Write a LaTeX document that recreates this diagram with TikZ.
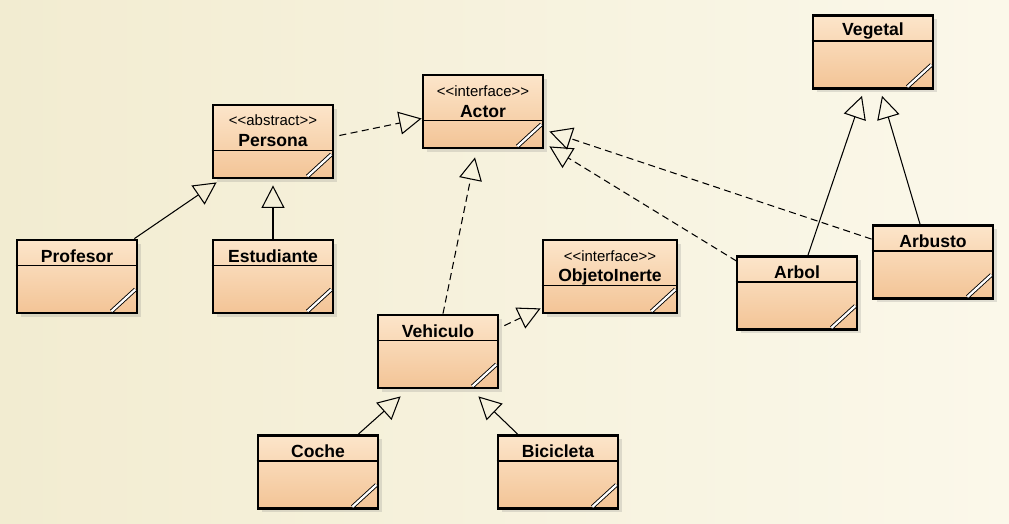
\documentclass[tikz,border=0pt]{standalone}
\usepackage{fontspec}
\setmainfont{Liberation Sans}
\usetikzlibrary{arrows.meta,calc,shadows,positioning}
\definecolor{paper}{RGB}{242,236,209}
\definecolor{paperlight}{RGB}{251,248,234}
\definecolor{classtop}{RGB}{252,229,202}
\definecolor{classbot}{RGB}{243,196,150}
\tikzset{>={Triangle[open,length=0.45cm,width=0.46cm]},
	classbox/.style={rectangle,draw=black,line width=1.6pt,inner sep=0pt,minimum width=2.4cm,minimum height=1.46cm,top color=classtop,bottom color=classbot,drop shadow={opacity=0.22,shadow xshift=2pt,shadow yshift=-2pt}},
	widebox/.style={classbox,minimum width=2.68cm},
	cname/.style={inner sep=0pt,font=\bfseries\fontsize{10}{12}\selectfont},
	stereo/.style={inner sep=0pt,font=\fontsize{8.5}{10}\selectfont},
	divider/.style={line width=0.8pt},
	corner/.style={line width=0.5pt,double=white,double distance=1.3pt},
	realize/.style={->,line width=0.6pt,dash pattern=on 4pt off 2.5pt},
	extends/.style={->,line width=0.6pt}}
\begin{document}
\begin{tikzpicture}[x=0.02cm,y=-0.02cm]
	\fill[left color=paper,right color=paperlight] (0,0) rectangle (1009,524);
	\useasboundingbox (0,0) rectangle (1009,524);
	% classes
	\node (Persona) at (273,141.5) [classbox] {};
	\node (Actor) at (483,111.5) [classbox] {};
	\node (Vegetal) at (873,52) [classbox] {};
	\node (Profesor) at (77,276.5) [classbox] {};
	\node (Estudiante) at (273,276.5) [classbox] {};
	\node (ObjetoInerte) at (610,276.5) [widebox] {};
	\node (Vehiculo) at (438,351.5) [classbox] {};
	\node (Arbol) at (797,293) [classbox] {};
	\node (Arbusto) at (933,262) [classbox] {};
	\node (Coche) at (318,472) [classbox] {};
	\node (Bicicleta) at (558,472) [classbox] {};
	% names
	\node at (273,120) [stereo] {<\kern0pt<abstract>\kern0pt>};
	\node at (273,141) [cname] {Persona};
	\node at (483,91) [stereo] {<\kern0pt<interface>\kern0pt>};
	\node at (483,112) [cname] {Actor};
	\node at (610,256) [stereo] {<\kern0pt<interface>\kern0pt>};
	\node at (610,277) [cname] {ObjetoInerte};
	\node at (873,31) [cname] {Vegetal};
	\node at (77,256) [cname] {Profesor};
	\node at (273,256) [cname] {Estudiante};
	\node at (438,331) [cname] {Vehiculo};
	\node at (797,272) [cname] {Arbol};
	\node at (933,241) [cname] {Arbusto};
	\node at (318,451) [cname] {Coche};
	\node at (558,451) [cname] {Bicicleta};
	% compartments
	\draw[divider] ($(Persona.north west)+(0,47)$) -- ($(Persona.north east)+(0,47)$);
	\draw[divider] ($(Actor.north west)+(0,47)$) -- ($(Actor.north east)+(0,47)$);
	\draw[divider] ($(ObjetoInerte.north west)+(0,47)$) -- ($(ObjetoInerte.north east)+(0,47)$);
	\draw[divider] ($(Vegetal.north west)+(0,27)$) -- ($(Vegetal.north east)+(0,27)$);
	\draw[divider] ($(Profesor.north west)+(0,27)$) -- ($(Profesor.north east)+(0,27)$);
	\draw[divider] ($(Estudiante.north west)+(0,27)$) -- ($(Estudiante.north east)+(0,27)$);
	\draw[divider] ($(Vehiculo.north west)+(0,27)$) -- ($(Vehiculo.north east)+(0,27)$);
	\draw[divider] ($(Arbol.north west)+(0,27)$) -- ($(Arbol.north east)+(0,27)$);
	\draw[divider] ($(Arbusto.north west)+(0,27)$) -- ($(Arbusto.north east)+(0,27)$);
	\draw[divider] ($(Coche.north west)+(0,27)$) -- ($(Coche.north east)+(0,27)$);
	\draw[divider] ($(Bicicleta.north west)+(0,27)$) -- ($(Bicicleta.north east)+(0,27)$);
	% resize marks
	\draw[corner] ($(Persona.south east)+(-27,-3)$) -- ($(Persona.south east)+(-3,-25)$);
	\draw[corner] ($(Actor.south east)+(-27,-3)$) -- ($(Actor.south east)+(-3,-25)$);
	\draw[corner] ($(ObjetoInerte.south east)+(-27,-3)$) -- ($(ObjetoInerte.south east)+(-3,-25)$);
	\draw[corner] ($(Vegetal.south east)+(-27,-3)$) -- ($(Vegetal.south east)+(-3,-25)$);
	\draw[corner] ($(Profesor.south east)+(-27,-3)$) -- ($(Profesor.south east)+(-3,-25)$);
	\draw[corner] ($(Estudiante.south east)+(-27,-3)$) -- ($(Estudiante.south east)+(-3,-25)$);
	\draw[corner] ($(Vehiculo.south east)+(-27,-3)$) -- ($(Vehiculo.south east)+(-3,-25)$);
	\draw[corner] ($(Arbol.south east)+(-27,-3)$) -- ($(Arbol.south east)+(-3,-25)$);
	\draw[corner] ($(Arbusto.south east)+(-27,-3)$) -- ($(Arbusto.south east)+(-3,-25)$);
	\draw[corner] ($(Coche.south east)+(-27,-3)$) -- ($(Coche.south east)+(-3,-25)$);
	\draw[corner] ($(Bicicleta.south east)+(-27,-3)$) -- ($(Bicicleta.south east)+(-3,-25)$);
	% relations
	\draw[realize] ($(Persona.east)+(5,-6)$) -- ($(Actor.west)+(0,7)$);
	\draw[extends] ($(Profesor.north east)+(-4,0)$) -- ($(Persona.south west)+(5,3)$);
	\draw[extends] (Estudiante.north) -- ($(Persona.south)+(0,6)$);
	\draw[realize] ($(Vehiculo.north)+(5,0)$) -- ($(Actor.south)+(-8,8)$);
	\draw[realize] ($(Vehiculo.north east)+(5,12)$) -- ($(ObjetoInerte.south west)+(-1,-6)$);
	\draw[extends] ($(Coche.north east)+(-21,0)$) -- ($(Vehiculo.south west)+(24,7)$);
	\draw[extends] ($(Bicicleta.north west)+(21,0)$) -- ($(Vehiculo.south east)+(-21,7)$);
	\draw[realize] ($(Arbol.north west)+(1,6)$) -- ($(Actor.south east)+(5,-3)$);
	\draw[realize] ($(Arbusto.north west)+(0,15)$) -- ($(Actor.east)+(5,20)$);
	\draw[extends] ($(Arbol.north)+(11,0)$) -- ($(Vegetal.south)+(-11,6)$);
	\draw[extends] ($(Arbusto.north)+(-13,0)$) -- ($(Vegetal.south)+(9,6)$);
\end{tikzpicture}
\end{document}
